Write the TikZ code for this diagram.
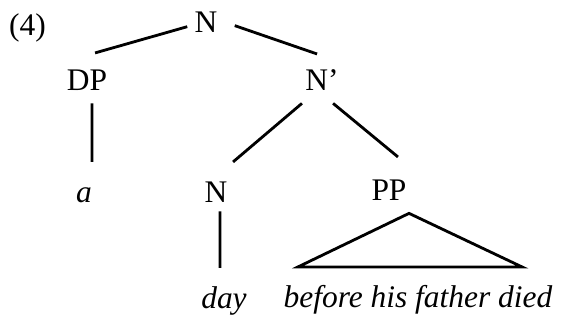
\documentclass[tikz,border=0pt]{standalone}
\usepackage{fontspec}
\setmainfont{Liberation Serif}
\begin{document}
\begin{tikzpicture}[
    line width=1.6pt,
    cat/.style={font=\fontsize{17.9}{20}\selectfont, anchor=base,
      text height=15.2pt, text depth=0pt, inner xsep=3.4pt, inner ysep=6.8pt},
    word/.style={cat, font=\fontsize{17.9}{20}\selectfont\itshape}]
  % fixed 11.34 cm x 6.46 cm canvas
  \path[use as bounding box] (0,0) rectangle (11.34,6.46);

  % ================= example number =================
  \node[cat] (ex) at (0.55,5.75) {(4)};

  % ================= categories =================
  \node[cat] (top)  at (4.12,5.80) {N};
  \node[cat] (dp)   at (1.74,4.66) {DP};
  \node[cat] (nbar) at (6.44,4.66) {N’};
  \node[cat] (nlow) at (4.32,2.42) {N};
  \node[cat] (pp)   at (7.78,2.46) {PP};

  % ================= words =================
  \node[word] (a)   at (1.68,2.42) {a};
  \node[word] (day) at (4.48,0.30) {day};
  \node[word] (bef) at (8.36,0.32) {before his father died};

  % ================= branches =================
  \draw ([yshift=-4pt]top.west) -- ([xshift=4.6pt,yshift=-1.7pt]dp.north);
  \draw ([xshift=5.7pt,yshift=-3.4pt]top.east) -- ([xshift=-2.8pt,yshift=-2.3pt]nbar.north);
  \draw ([xshift=2.8pt]dp.south) -- ([xshift=4.6pt]a.north);
  \draw ([xshift=-11.4pt]nbar.south) -- ([xshift=9.7pt]nlow.north);
  \draw ([xshift=6.3pt]nbar.south) -- ([xshift=5.1pt,yshift=1.7pt]pp.north);
  \draw ([xshift=2.3pt,yshift=2.3pt]nlow.south) -- ([xshift=-2.3pt]day.north);
  % PP left unanalysed: triangle
  \draw ([xshift=11.4pt]pp.south) -- ([xshift=-68.3pt]bef.north)
    -- ([xshift=59.2pt]bef.north) -- cycle;
\end{tikzpicture}
\end{document}
